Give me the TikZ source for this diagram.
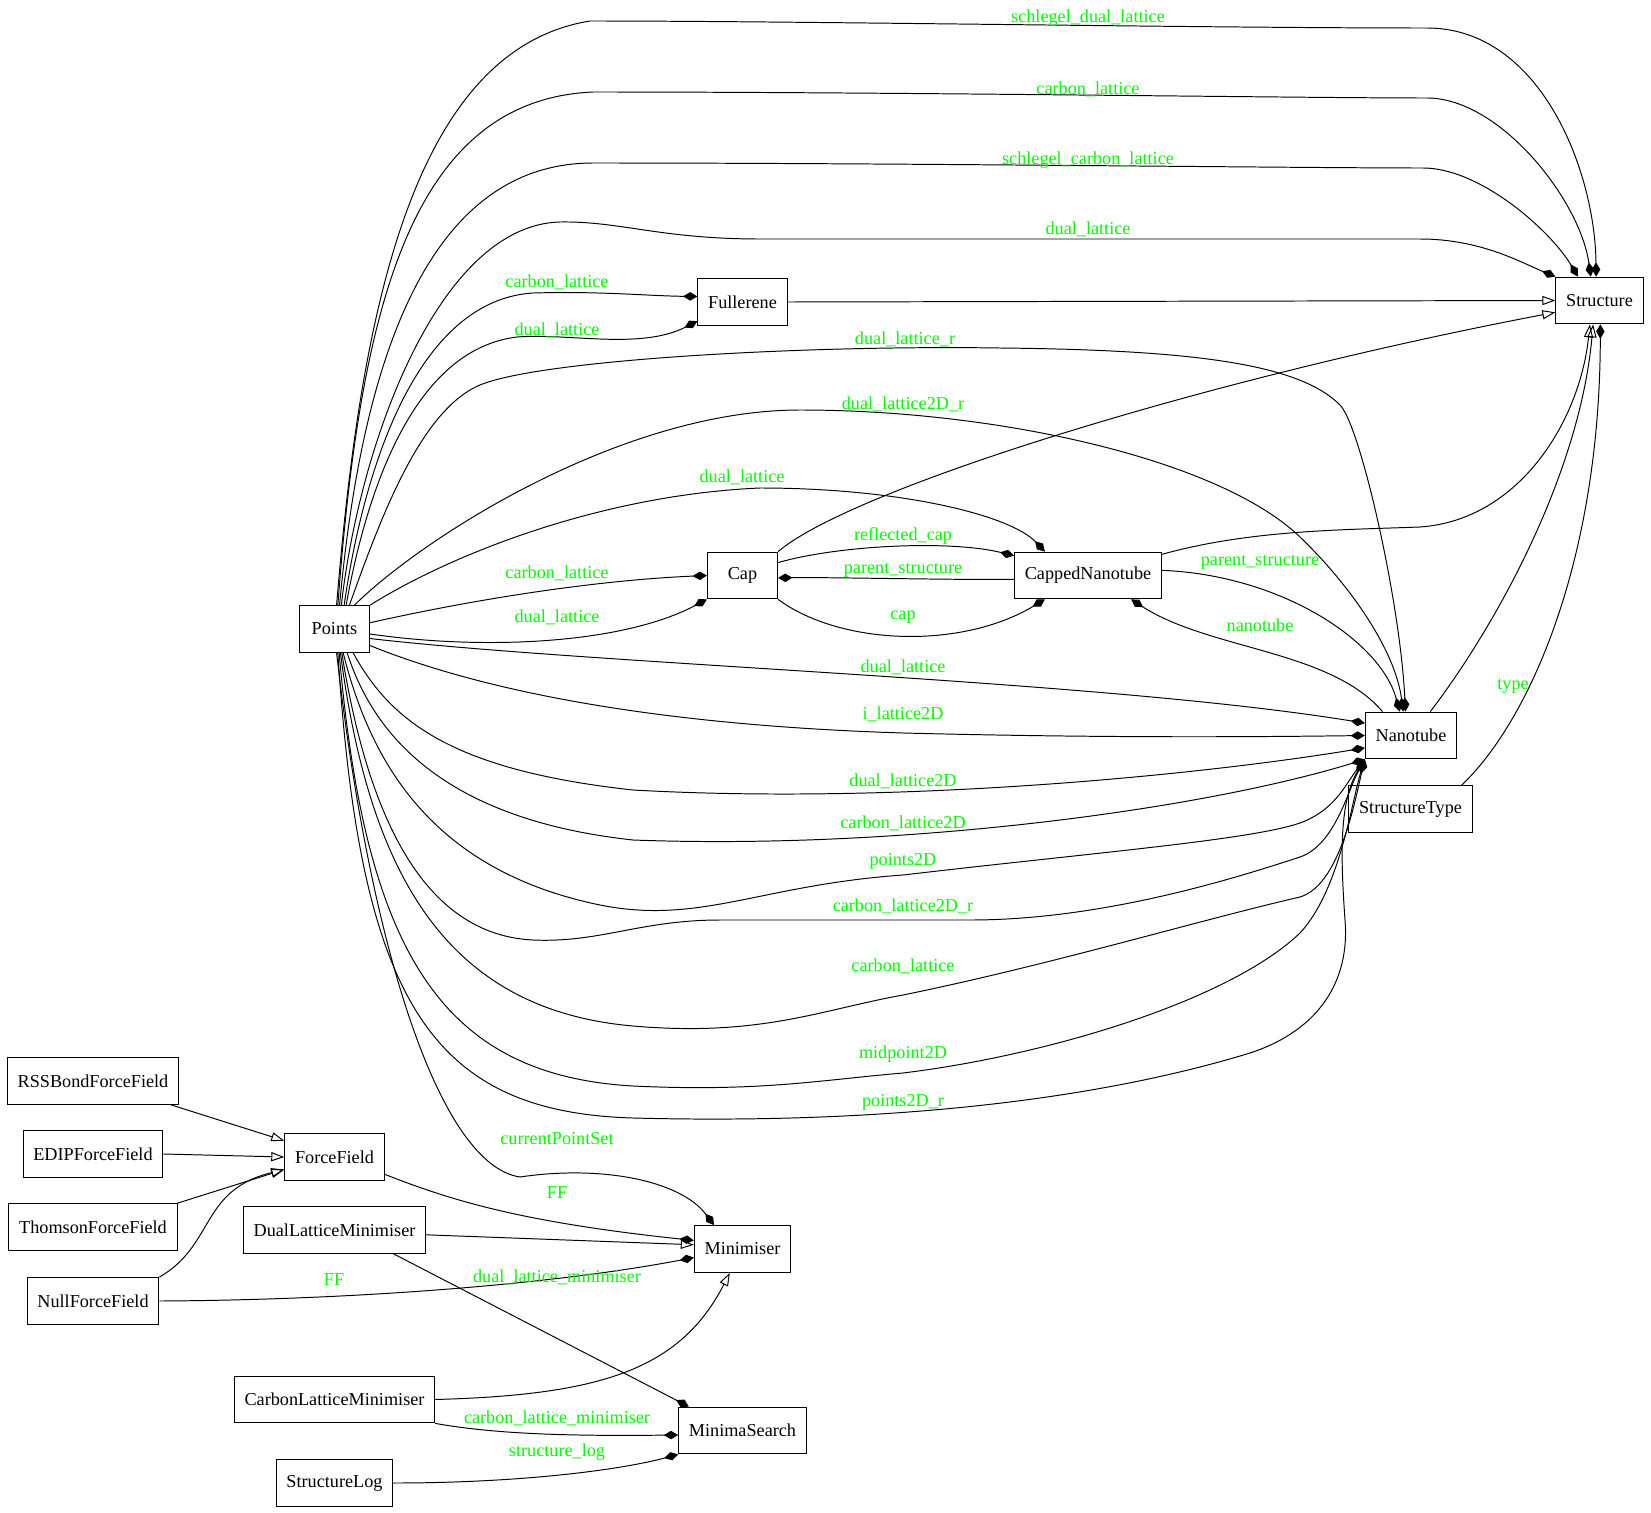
\documentclass[tikz,border=0pt]{standalone}
\usepackage{fontspec}
\setmainfont{Liberation Serif}
\usetikzlibrary{arrows.meta}
\definecolor{lblgreen}{RGB}{0,255,0}

\begin{document}
\begin{tikzpicture}[x=0.76923pt, y=-0.76923pt,
    font=\fontsize{14pt}{16pt}\selectfont,
    cls/.style = {draw, rectangle, line width=0.75pt, minimum width=54pt, minimum height=36pt, inner xsep=7.92pt},
    lbl/.style = {text=lblgreen, inner sep=0pt},
    comp/.style = {line width=0.75pt, -{Diamond[length=11pt,width=6.5pt]}},
    inh/.style = {line width=0.75pt, -{Triangle[open,length=10pt,width=7pt]}}]
    \useasboundingbox (0,0) rectangle (1651,1513);

    % classes
    \node[cls] (Structure) at (1599.5,300.5) {Structure};
    \node[cls] (Fullerene) at (742.5,302) {Fullerene};
    \node[cls] (Points) at (334.5,629) {Points};
    \node[cls] (Cap) at (742.5,575.5) {Cap};
    \node[cls] (CappedNanotube) at (1088,575.5) {CappedNanotube};
    \node[cls] (Nanotube) at (1411,735.5) {Nanotube};
    \node[cls] (StructureType) at (1410.5,809) {StructureType};
    \node[cls] (RSSBondForceField) at (93,1081) {RSSBondForceField};
    \node[cls] (EDIPForceField) at (93,1154) {EDIPForceField};
    \node[cls] (ThomsonForceField) at (93,1227) {ThomsonForceField};
    \node[cls] (NullForceField) at (93,1301) {NullForceField};
    \node[cls] (ForceField) at (334.5,1157) {ForceField};
    \node[cls] (DualLatticeMinimiser) at (334.5,1230) {DualLatticeMinimiser};
    \node[cls] (Minimiser) at (742.5,1249) {Minimiser};
    \node[cls] (CarbonLatticeMinimiser) at (334.5,1399.5) {CarbonLatticeMinimiser};
    \node[cls] (MinimaSearch) at (742.5,1430.5) {MinimaSearch};
    \node[cls] (StructureLog) at (334.5,1483) {StructureLog};

    % Points -> Structure
    \draw[comp] (Points.85) .. controls (360,320) and (410,50) .. (590,21) .. controls (800,21) and (1200,28) .. (1427,28) .. controls (1540,28) and (1595,170) .. (Structure.98) node[lbl] at (1088,18) {schlegel\_dual\_lattice};
    \draw[comp] (Points.82) .. controls (360,310) and (410,100) .. (593,92) .. controls (900,92) and (1300,98) .. (1427,98) .. controls (1500,98) and (1580,200) .. (Structure.110) node[lbl] at (1088,89.5) {carbon\_lattice};
    \draw[comp] (Points.78) .. controls (360,380) and (420,163) .. (593,163) .. controls (900,163) and (1300,168) .. (1423,168) .. controls (1480,168) and (1550,230) .. (Structure.132) node[lbl] at (1088,160) {schlegel\_carbon\_lattice};
    \draw[comp] (Points.74) .. controls (360,440) and (440,225) .. (560,222) .. controls (620,221) and (660,239) .. (760,239) -- (1420,239) .. controls (1480,239) and (1520,262) .. (Structure.north west) node[lbl] at (1088,229.5) {dual\_lattice};

    % Points -> Fullerene
    \draw[comp] (Points.68) .. controls (365,460) and (420,300) .. (533,293) .. controls (600,291) and (650,296) .. (Fullerene.173) node[lbl] at (557,282) {carbon\_lattice};
    \draw[comp] (Points.64) .. controls (365,500) and (410,350) .. (517,337) .. controls (570,333) and (640,350) .. (Fullerene.203) node[lbl] at (557,330) {dual\_lattice};

    % Points -> Nanotube (top)
    \draw[comp] (Points.58) .. controls (380,520) and (420,410) .. (480,385) .. controls (540,360) and (800,345) .. (1000,348) .. controls (1200,350) and (1300,365) .. (1340,405) .. controls (1360,425) and (1400,600) .. (Nanotube.103) node[lbl] at (905,339) {dual\_lattice\_r};
    \draw[comp] (Points.50) .. controls (420,540) and (620,410) .. (800,410) .. controls (1000,410) and (1220,460) .. (1300,537) .. controls (1350,585) and (1395,650) .. (Nanotube.108) node[lbl] at (903,404) {dual\_lattice2D\_r};

    % Points -> CappedNanotube, Cap
    \draw[comp] (Points.north east) .. controls (450,555) and (600,495) .. (760,488) .. controls (900,488) and (1010,515) .. (CappedNanotube.151) node[lbl] at (742,477) {dual\_lattice};
    \draw[comp] (Points.10) .. controls (480,598) and (600,580) .. (Cap.west) node[lbl] at (557,573) {carbon\_lattice};
    \draw[comp] (Points.-8) .. controls (480,650) and (620,645) .. (Cap.south west) node[lbl] at (557,617) {dual\_lattice};

    % Cap and CappedNanotube
    \draw[inh] (Fullerene.east) -- (Structure.west);
    \draw[inh] (Cap.north east) .. controls (850,490) and (1200,380) .. (Structure.195);
    \draw[comp] (Cap.20) .. controls (840,545) and (950,540) .. (CappedNanotube.165) node[lbl] at (903,536) {reflected\_cap};
    \draw[comp] (CappedNanotube.183) .. controls (950,580) and (820,577) .. (Cap.-4) node[lbl] at (903,570) {parent\_structure};
    \draw[comp] (Cap.south east) .. controls (840,645) and (960,650) .. (CappedNanotube.209) node[lbl] at (903,617) {cap};
    \draw[inh] (CappedNanotube.16) .. controls (1250,530) and (1340,530) .. (1420,527) .. controls (1520,520) and (1580,420) .. (Structure.248);
    \draw[comp] (CappedNanotube.4) .. controls (1280,575) and (1380,640) .. (Nanotube.115) node[lbl] at (1260,562) {parent\_structure};
    \draw[comp] (Nanotube.140) .. controls (1330,650) and (1210,650) .. (CappedNanotube.-29) node[lbl] at (1260,625) {nanotube};
    \draw[inh] (Nanotube.51) .. controls (1500,620) and (1580,470) .. (Structure.255);
    \draw[comp] (StructureType.25) .. controls (1530,720) and (1600,560) .. (Structure.-88) node[lbl] at (1513,686.5) {type};

    % Points -> Nanotube (left)
    \draw[comp] (Points.-15) .. controls (600,665) and (1100,680) .. (Nanotube.165) node[lbl] at (903,667.5) {dual\_lattice};
    \draw[comp] (Points.-25) .. controls (480,690) and (650,725) .. (903,733) .. controls (1100,738) and (1250,737) .. (Nanotube.west) node[lbl] at (903,714) {i\_lattice2D};
    \draw[comp] (Points.-52) .. controls (390,720) and (450,770) .. (633,790) .. controls (900,805) and (1200,775) .. (Nanotube.195) node[lbl] at (903,781) {dual\_lattice2D};
    \draw[comp] (Points.-62) .. controls (375,740) and (450,820) .. (633,840) .. controls (900,850) and (1200,810) .. (Nanotube.south west) node[lbl] at (903,823) {carbon\_lattice2D};
    \draw[comp] (Points.-70) .. controls (370,760) and (430,870) .. (600,905) .. controls (700,925) and (760,885) .. (903,875) .. controls (1100,852) and (1250,840) .. (1300,823) .. controls (1335,810) and (1345,785) .. (Nanotube.south west) node[lbl] at (903,861) {points2D};
    \draw[comp] (Points.-73) .. controls (370,830) and (430,935) .. (533,940) .. controls (600,943) and (640,920) .. (720,920) -- (970,920) .. controls (1100,920) and (1230,880) .. (1300,857) .. controls (1335,845) and (1348,790) .. (Nanotube.south west) node[lbl] at (903,906.5) {carbon\_lattice2D\_r};
    \draw[comp] (Points.-76) .. controls (370,880) and (450,1010) .. (633,1026) .. controls (760,1037) and (820,1010) .. (903,995) .. controls (1050,965) and (1200,920) .. (1300,897) .. controls (1340,885) and (1355,800) .. (Nanotube.south west) node[lbl] at (903,966.5) {carbon\_lattice};
    \draw[comp] (Points.-79) .. controls (365,950) and (440,1075) .. (633,1086) .. controls (760,1092) and (820,1080) .. (903,1073) .. controls (1050,1055) and (1230,1000) .. (1300,933) .. controls (1340,890) and (1352,800) .. (Nanotube.south west) node[lbl] at (903,1054) {midpoint2D};
    \draw[comp] (Points.-82) .. controls (360,1000) and (430,1112) .. (633,1118) .. controls (860,1124) and (1080,1105) .. (1250,1053) .. controls (1320,1030) and (1350,980) .. (1345,920) .. controls (1340,850) and (1340,800) .. (Nanotube.south west) node[lbl] at (903,1102) {points2D\_r};
    \draw[comp] (Points.-85) .. controls (370,950) and (440,1165) .. (520,1177) .. controls (600,1165) and (680,1180) .. (Minimiser.140) node[lbl] at (557,1139) {currentPointSet};

    % force fields and minimisers
    \draw[inh] (RSSBondForceField.-17) -- (ForceField.162);
    \draw[inh] (EDIPForceField.east) -- (ForceField.west);
    \draw[inh] (ThomsonForceField.north east) -- (ForceField.194);
    \draw[inh] (NullForceField.north east) .. controls (215,1245) and (200,1190) .. (ForceField.194);
    \draw[comp] (ForceField.-19) .. controls (450,1200) and (520,1222) .. (Minimiser.170) node[lbl] at (557,1193) {FF};
    \draw[inh] (DualLatticeMinimiser.-3) -- (Minimiser.175);
    \draw[comp] (NullForceField.east) .. controls (350,1300) and (550,1285) .. (Minimiser.190) node[lbl] at (334,1280) {FF};
    \draw[comp] (DualLatticeMinimiser.-22) -- (MinimaSearch.156) node[lbl] at (557,1277) {dual\_lattice\_minimiser};
    \draw[inh] (CarbonLatticeMinimiser.east) .. controls (600,1395) and (680,1370) .. (Minimiser.242);
    \draw[comp] (CarbonLatticeMinimiser.south east) .. controls (500,1435) and (580,1436) .. (MinimaSearch.184) node[lbl] at (557,1418) {carbon\_lattice\_minimiser};
    \draw[comp] (StructureLog.east) .. controls (520,1483) and (620,1470) .. (MinimaSearch.south west) node[lbl] at (557,1452) {structure\_log};
\end{tikzpicture}
\end{document}
